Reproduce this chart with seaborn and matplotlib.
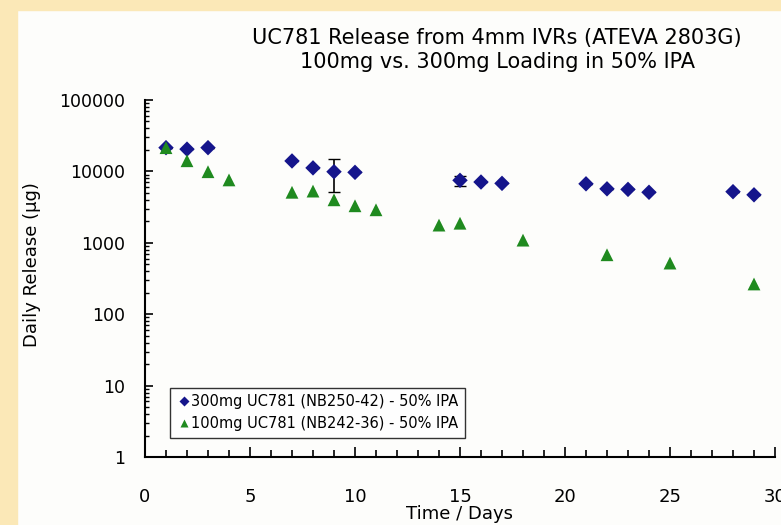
import pandas as pd
import numpy as np
import matplotlib
matplotlib.use("Agg")
import matplotlib.pyplot as plt
import seaborn as sns
from matplotlib.patches import Rectangle
from matplotlib.ticker import LogLocator, NullFormatter, MultipleLocator, FixedFormatter

# ===== Data =====
days_300 = [1, 2, 3, 7, 8, 9, 10, 15, 16, 17, 21, 22, 23, 24, 28, 29]
release_300 = [21500, 20500, 21500, 14000, 11200, 9900, 9700, 7500, 7100, 6800,
               6700, 5700, 5600, 5100, 5200, 4700]
err_300 = [0, 0, 0, 0, 0, 4800, 0, 1200, 0, 0, 0, 0, 0, 0, 0, 0]

days_100 = [1, 2, 3, 4, 7, 8, 9, 10, 11, 14, 15, 18, 22, 25, 29]
release_100 = [21500, 14100, 9900, 7600, 5100, 5300, 4000, 3300, 2900, 1770,
               1880, 1090, 680, 520, 265]

label_300 = "300mg UC781 (NB250-42) - 50% IPA"
label_100 = "100mg UC781 (NB242-36) - 50% IPA"

ytick_vals = [1, 10, 100, 1000, 10000, 100000]
ytick_labels = ["1", "10", "100", "1000", "10000", "100000"]

df = pd.concat([
    pd.DataFrame({"Day": days_300, "Release": release_300, "Series": label_300}),
    pd.DataFrame({"Day": days_100, "Release": release_100, "Series": label_100}),
])

# ===== Plot =====
sns.set_style("white")
plt.rcParams["font.family"] = ["DejaVu Sans"]
plt.rcParams.update({"text.color": "black", "axes.labelcolor": "black",
                     "xtick.color": "black", "ytick.color": "black"})

fig = plt.figure(figsize=(7.81, 5.25), dpi=100)
fig.patch.set_facecolor("#fdfdfb")
# beige frame strips like the slide background
fig.patches.append(Rectangle((0, 0), 17 / 781, 1, transform=fig.transFigure,
                             color="#fbe8b7", zorder=0))
fig.patches.append(Rectangle((0, 1 - 10 / 525), 1, 10 / 525, transform=fig.transFigure,
                             color="#fbe8b7", zorder=0))

ax = fig.add_axes([145 / 781, 1 - 457 / 525, 630 / 781, 357 / 525])
ax.set_facecolor("none")

palette = {label_300: "#15158c", label_100: "#1f8a1f"}
markers = {label_300: "D", label_100: "^"}
sizes = {label_300: 62, label_100: 85}
ax.errorbar(days_300, release_300, yerr=err_300, fmt="none", ecolor="black",
            elinewidth=1.2, capsize=4, zorder=2)
sns.scatterplot(data=df, x="Day", y="Release", hue="Series", style="Series",
                size="Series", sizes=sizes, palette=palette, markers=markers,
                edgecolor="none", ax=ax, zorder=3)

ax.set_yscale("log")
ax.set_ylim(1, 100000)
ax.set_xlim(0, 30)
ax.set_yticks(ytick_vals)
ax.yaxis.set_major_formatter(FixedFormatter(ytick_labels))
ax.yaxis.set_minor_locator(LogLocator(base=10, subs=np.arange(2, 10)))
ax.yaxis.set_minor_formatter(NullFormatter())
ax.xaxis.set_major_locator(MultipleLocator(5))
ax.xaxis.set_minor_locator(MultipleLocator(1))

for s in ["top", "right"]:
    ax.spines[s].set_visible(False)
for s in ["left", "bottom"]:
    ax.spines[s].set_color("black")
    ax.spines[s].set_linewidth(1.5)

ax.tick_params(axis="both", which="both", direction="in", color="black",
               bottom=True, left=True)
ax.tick_params(axis="x", which="major", length=7, width=1.2, pad=22, labelsize=13)
ax.tick_params(axis="x", which="minor", length=5, width=1.2)
ax.tick_params(axis="y", which="major", length=6, width=1.2, pad=14, labelsize=12.5)
ax.tick_params(axis="y", which="minor", length=3, width=1.0)

ax.set_xlabel("Time / Days", fontsize=13)
ax.set_ylabel("Daily Release (µg)", fontsize=13)
ax.xaxis.set_label_coords(0.5, -0.135)
ax.yaxis.set_label_coords(-0.165, 0.54)

fig.text(497 / 781, 1 - 38 / 525, "UC781 Release from 4mm IVRs (ATEVA 2803G)",
         ha="center", va="center", fontsize=15)
fig.text(497 / 781, 1 - 62 / 525, "100mg vs. 300mg Loading in 50% IPA",
         ha="center", va="center", fontsize=15)

leg = ax.legend(loc="lower left", bbox_to_anchor=(25 / 630, 19 / 357),
                frameon=True, fancybox=False, fontsize=10.5, handletextpad=0.0,
                borderpad=0.45, handlelength=1.0,
                borderaxespad=0, labelspacing=0.5)
for h in leg.legend_handles:
    if hasattr(h, "set_markersize"):
        h.set_markersize(5.5)
    elif hasattr(h, "set_sizes"):
        h.set_sizes([30])
leg.get_frame().set_edgecolor("black")
leg.get_frame().set_linewidth(1.0)
leg.set_title(None)

fig.savefig("out.png", dpi=100, facecolor=fig.get_facecolor())
